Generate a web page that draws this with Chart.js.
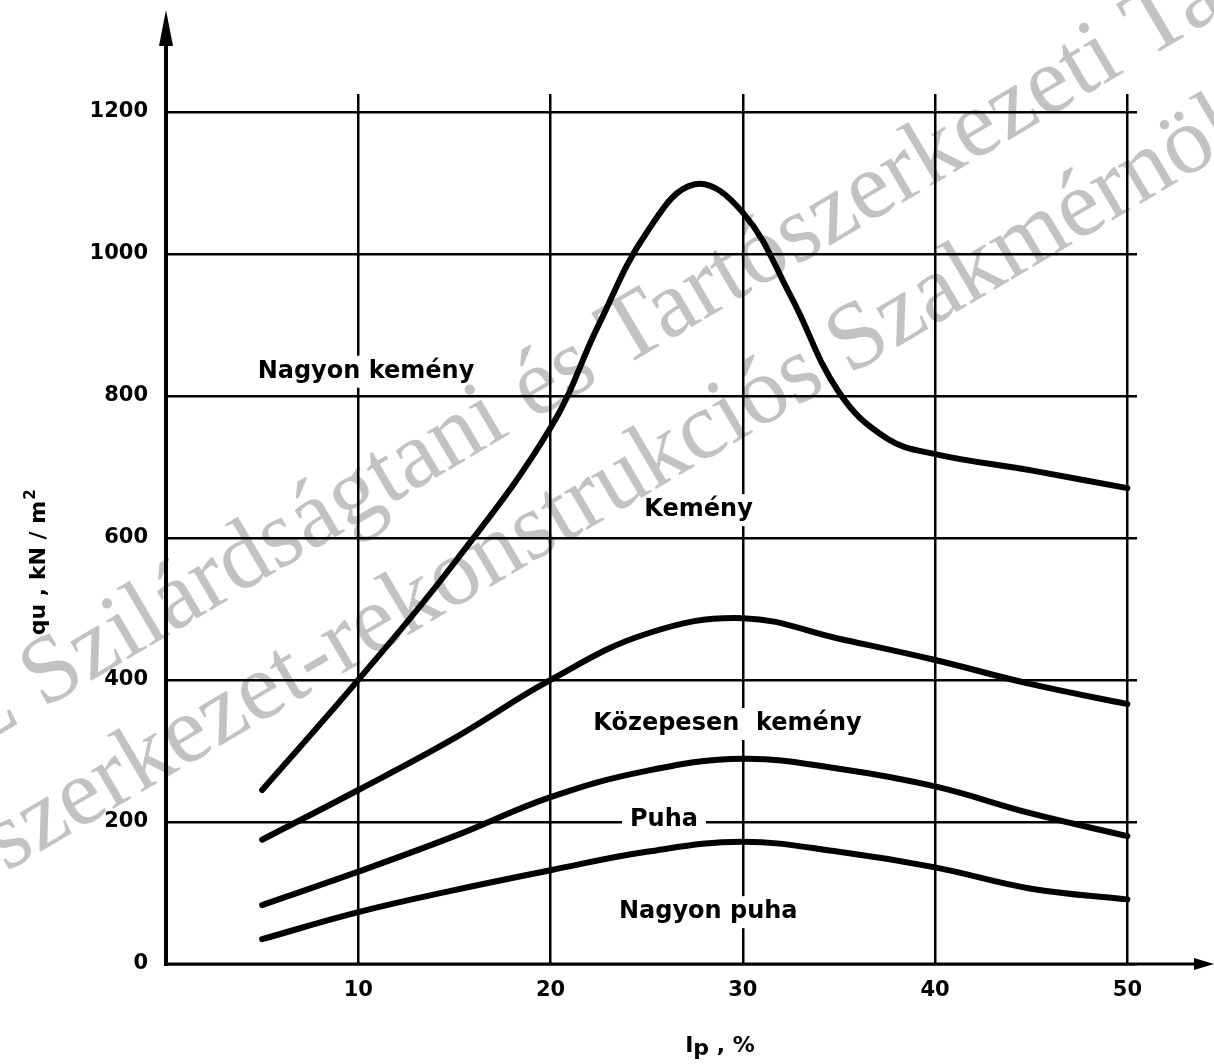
<!DOCTYPE html>
<html>
<head>
<meta charset="utf-8">
<script src="https://cdn.jsdelivr.net/npm/chart.js@4.4.1/dist/chart.umd.min.js"></script>
<style>
  html, body { margin: 0; padding: 0; background: #fff; }
</style>
</head>
<body>
<canvas id="qChart" width="1214" height="1064"></canvas>
<script>
// Ip (%) and qu (kN/m2)
const ipVeryHard = [5, 10, 15, 20, 22.5, 25, 27.5, 30, 32.5, 35, 37.5, 40, 45, 50];
const quVeryHard = [245, 400, 565, 755, 900, 1030, 1098, 1058, 940, 805, 740, 718, 695, 670];

const ipHard = [5, 10, 15, 20, 25, 30, 35, 40, 45, 50];
const quHard = [175, 245, 318, 400, 465, 487, 458, 428, 394, 366];

const ipMedium = [5, 10, 15, 20, 25, 30, 35, 40, 45, 50];
const quMedium = [83, 130, 180, 235, 272, 289, 275, 250, 212, 180];

const ipSoft = [5, 10, 15, 20, 25, 30, 35, 40, 45, 50];
const quSoft = [35, 73, 104, 132, 158, 172, 158, 136, 106, 91];

const xTicks = [10, 20, 30, 40, 50];
const yTicks = [0, 200, 400, 600, 800, 1000, 1200];

// zone names and where they sit (Ip, qu)
const zoneNames = ['Nagyon kemény', 'Kemény', 'Közepesen  kemény', 'Puha', 'Nagyon puha'];
const zoneIp = [10.4, 27.7, 29.2, 25.9, 28.2];
const zoneQu = [834, 639, 338, 203, 73];

const watermark = ['BME Szilárdságtani és Tartószerkezeti Tanszék', 'Tartószerkezet-rekonstrukciós Szakmérnöki'];

function pts(xs, ys) {
    return xs.map((x, i) => ({ x: x, y: ys[i] }));
}

const FONT = '"DejaVu Sans", sans-serif';

const extras = {
    id: 'extras',
    beforeDraw(chart) {
        const ctx = chart.ctx;
        ctx.save();
        ctx.fillStyle = '#fff';
        ctx.fillRect(0, 0, chart.width, chart.height);
        ctx.restore();
    },
    beforeDatasetsDraw(chart) {
        const ctx = chart.ctx;
        const xs = chart.scales.x, ys = chart.scales.y;
        ctx.save();
        ctx.font = 'bold 24px ' + FONT;
        ctx.textAlign = 'center';
        ctx.textBaseline = 'middle';
        zoneNames.forEach((t, i) => {
            const px = xs.getPixelForValue(zoneIp[i]);
            const py = ys.getPixelForValue(zoneQu[i]);
            const w = ctx.measureText(t).width;
            ctx.fillStyle = '#fff';
            ctx.fillRect(px - w / 2 - 8, py - 16, w + 16, 32);
            ctx.fillStyle = '#000';
            ctx.fillText(t, px, py);
        });
        ctx.restore();
    },
    afterDraw(chart) {
        const ctx = chart.ctx;
        const x0 = chart.scales.x.getPixelForValue(0);
        const y0 = chart.scales.y.getPixelForValue(0);
        ctx.save();
        ctx.strokeStyle = '#000';
        ctx.fillStyle = '#000';
        // y axis with arrow
        ctx.lineWidth = 4;
        ctx.beginPath();
        ctx.moveTo(x0, y0 + 2);
        ctx.lineTo(x0, 30);
        ctx.stroke();
        ctx.beginPath();
        ctx.moveTo(x0, 10);
        ctx.lineTo(x0 - 7, 46);
        ctx.lineTo(x0 + 7, 46);
        ctx.closePath();
        ctx.fill();
        // x axis with arrow
        ctx.lineWidth = 3;
        ctx.beginPath();
        ctx.moveTo(x0 - 2, y0);
        ctx.lineTo(1200, y0);
        ctx.stroke();
        ctx.beginPath();
        ctx.moveTo(1214, y0);
        ctx.lineTo(1194, y0 - 6);
        ctx.lineTo(1194, y0 + 6);
        ctx.closePath();
        ctx.fill();

        // axis titles
        ctx.font = 'bold 22px ' + FONT;
        ctx.textBaseline = 'alphabetic';
        ctx.textAlign = 'left';
        const xt1 = 'I', xt2 = 'p', xt3 = ' , %';
        let w = ctx.measureText(xt1 + xt2 + xt3).width;
        let sx = 720 - w / 2;
        ctx.fillText(xt1, sx, 1052);
        sx += ctx.measureText(xt1).width;
        ctx.fillText(xt2, sx, 1055);
        sx += ctx.measureText(xt2).width;
        ctx.fillText(xt3, sx, 1052);

        ctx.translate(45, 563);
        ctx.rotate(-Math.PI / 2);
        const yt = 'qu , kN / m';
        const ytw = ctx.measureText(yt).width;
        w = ytw + 10;
        ctx.fillText(yt, -w / 2, 0);
        ctx.font = 'bold 15px ' + FONT;
        ctx.fillText('2', -w / 2 + ytw + 1, -10);
        ctx.restore();

        // watermark, multiplied so black stays black
        ctx.save();
        ctx.globalCompositeOperation = 'multiply';
        ctx.fillStyle = '#c2c2c2';
        ctx.font = '96px "Liberation Serif", serif';
        ctx.textAlign = 'left';
        ctx.textBaseline = 'alphabetic';
        ctx.save();
        ctx.translate(43, 709);
        ctx.rotate(-30.5 * Math.PI / 180);
        ctx.fillText(watermark[0], -ctx.measureText('BME ').width, 0);
        ctx.restore();
        ctx.save();
        ctx.translate(6, 872);
        ctx.rotate(-30.5 * Math.PI / 180);
        ctx.fillText(watermark[1], -ctx.measureText('Tartó').width, 0);
        ctx.restore();
        ctx.restore();
    }
};

function curve(label, xs, ys) {
    return {
        label: label,
        data: pts(xs, ys),
        borderColor: '#000',
        borderWidth: 6,
        borderCapStyle: 'round',
        borderJoinStyle: 'round',
        pointRadius: 0,
        fill: false,
        tension: 0.4
    };
}

const ctx = document.getElementById('qChart').getContext('2d');
const qChart = new Chart(ctx, {
    type: 'line',
    data: {
        datasets: [
            curve('Nagyon kemény / Kemény', ipVeryHard, quVeryHard),
            curve('Kemény / Közepesen kemény', ipHard, quHard),
            curve('Közepesen kemény / Puha', ipMedium, quMedium),
            curve('Puha / Nagyon puha', ipSoft, quSoft)
        ]
    },
    options: {
        responsive: false,
        animation: false,
        layout: { padding: { top: 94, right: 77, left: 0, bottom: 0 } },
        plugins: {
            legend: { display: false },
            tooltip: { enabled: false }
        },
        scales: {
            x: {
                type: 'linear',
                min: 0,
                max: 50.5,
                afterBuildTicks: s => { s.ticks = xTicks.map(v => ({ value: v })); },
                afterFit: s => { s.height = 100; },
                border: { display: false },
                grid: { color: '#000', lineWidth: 2.5, drawTicks: false },
                ticks: {
                    color: '#000',
                    padding: 14,
                    maxRotation: 0,
                    callback: v => String(v),
                    font: { family: FONT, weight: 'bold', size: 21 }
                }
            },
            y: {
                type: 'linear',
                min: 0,
                max: 1225,
                afterBuildTicks: s => { s.ticks = yTicks.map(v => ({ value: v })); },
                afterFit: s => { s.width = 166; },
                border: { display: false },
                grid: { color: '#000', lineWidth: 2.5, drawTicks: false },
                ticks: {
                    color: '#000',
                    padding: 18,
                    callback: v => String(v),
                    font: { family: FONT, weight: 'bold', size: 21 }
                }
            }
        }
    },
    plugins: [extras]
});
</script>
</body>
</html>
